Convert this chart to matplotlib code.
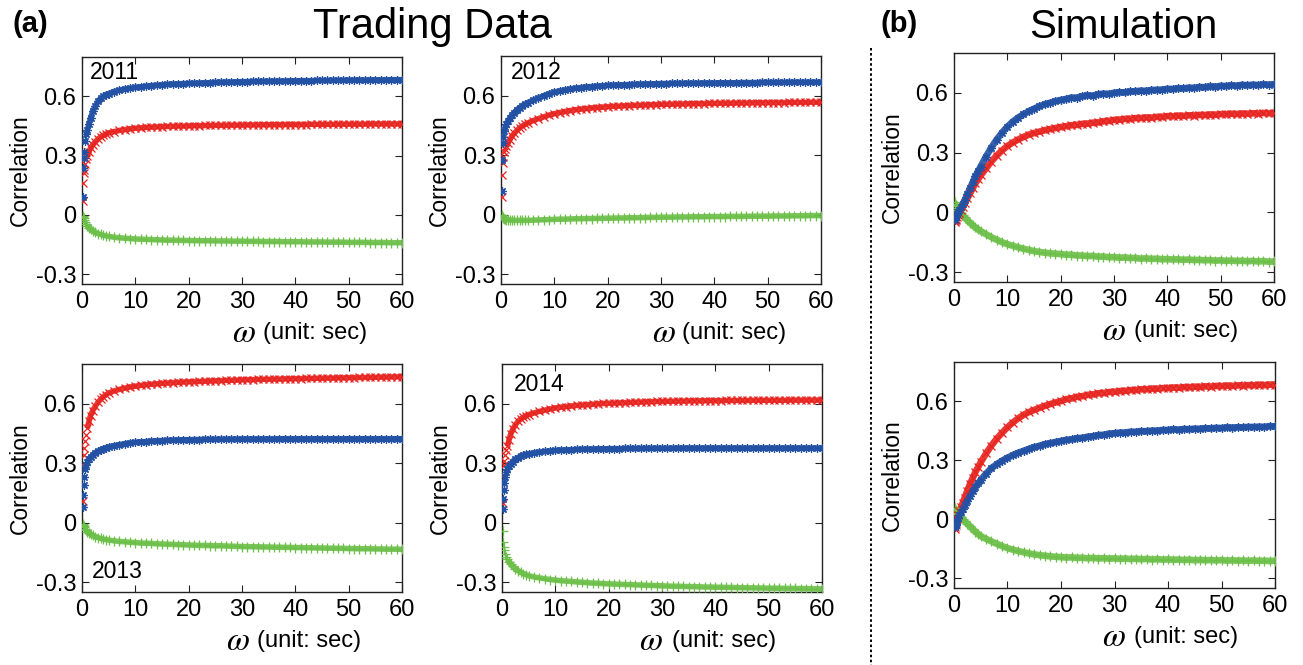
import matplotlib
matplotlib.use('Agg')
import matplotlib.pyplot as plt
from matplotlib.lines import Line2D

# ---------------- data ----------------
W = [0.1, 0.2, 0.3, 0.4, 0.6, 0.8, 1.0, 1.3, 1.6, 2.0, 2.5, 3.0, 3.5, 4.0, 4.5, 5.0,
     6, 7, 8, 9, 10,
     11, 12, 13, 14, 15, 16, 17, 18, 19, 20,
     21, 22, 23, 24, 25, 26, 27, 28, 29, 30,
     31, 32, 33, 34, 35, 36, 37, 38, 39, 40,
     41, 42, 43, 44, 45, 46, 47, 48, 49, 50,
     51, 52, 53, 54, 55, 56, 57, 58, 59, 60]

# 2011
B11 = [0.09, 0.24, 0.29, 0.32, 0.375, 0.41, 0.43, 0.46, 0.49, 0.525, 0.55, 0.575, 0.59, 0.60, 0.61, 0.615,
       0.625, 0.632, 0.638, 0.642, 0.646,
       0.649, 0.652, 0.655, 0.657, 0.659, 0.661, 0.663, 0.664, 0.665, 0.666,
       0.667, 0.668, 0.669, 0.670, 0.671, 0.672, 0.673, 0.673, 0.674, 0.675,
       0.675, 0.676, 0.676, 0.677, 0.677, 0.678, 0.678, 0.678, 0.679, 0.679,
       0.680, 0.680, 0.680, 0.681, 0.681, 0.681, 0.682, 0.682, 0.682, 0.683,
       0.683, 0.683, 0.683, 0.684, 0.684, 0.684, 0.684, 0.685, 0.685, 0.685]
R11 = [0.07, 0.16, 0.21, 0.23, 0.26, 0.285, 0.30, 0.32, 0.34, 0.355, 0.37, 0.385, 0.395, 0.403, 0.41, 0.416,
       0.422, 0.428, 0.432, 0.436, 0.439,
       0.441, 0.443, 0.445, 0.446, 0.447, 0.448, 0.449, 0.450, 0.450, 0.451,
       0.452, 0.452, 0.453, 0.453, 0.454, 0.454, 0.454, 0.455, 0.455, 0.455,
       0.456, 0.456, 0.456, 0.457, 0.457, 0.457, 0.457, 0.458, 0.458, 0.458,
       0.458, 0.458, 0.459, 0.459, 0.459, 0.459, 0.459, 0.460, 0.460, 0.460,
       0.460, 0.460, 0.460, 0.461, 0.461, 0.461, 0.461, 0.461, 0.461, 0.461]
G11 = [-0.003, -0.010, -0.018, -0.025, -0.037, -0.047, -0.056, -0.065, -0.073, -0.081, -0.089, -0.095, -0.099, -0.103, -0.106, -0.109,
       -0.113, -0.116, -0.118, -0.120, -0.122,
       -0.123, -0.124, -0.125, -0.126, -0.127, -0.128, -0.128, -0.129, -0.129, -0.130,
       -0.130, -0.131, -0.131, -0.131, -0.132, -0.132, -0.132, -0.133, -0.133, -0.133,
       -0.134, -0.134, -0.134, -0.135, -0.135, -0.135, -0.135, -0.136, -0.136, -0.136,
       -0.136, -0.137, -0.137, -0.137, -0.137, -0.138, -0.138, -0.138, -0.138, -0.139,
       -0.139, -0.139, -0.139, -0.140, -0.140, -0.140, -0.140, -0.141, -0.141, -0.141]

# 2012
B12 = [0.12, 0.275, 0.36, 0.39, 0.42, 0.44, 0.455, 0.47, 0.485, 0.50, 0.515, 0.53, 0.54, 0.55, 0.557, 0.565,
       0.577, 0.589, 0.600, 0.610, 0.618,
       0.624, 0.629, 0.634, 0.638, 0.641, 0.644, 0.646, 0.648, 0.650, 0.652,
       0.653, 0.654, 0.655, 0.656, 0.657, 0.658, 0.659, 0.659, 0.660, 0.661,
       0.661, 0.662, 0.662, 0.662, 0.663, 0.663, 0.663, 0.664, 0.664, 0.664,
       0.665, 0.665, 0.665, 0.665, 0.666, 0.666, 0.666, 0.666, 0.667, 0.667,
       0.667, 0.667, 0.667, 0.668, 0.668, 0.668, 0.668, 0.668, 0.668, 0.668]
R12 = [0.09, 0.20, 0.26, 0.29, 0.315, 0.33, 0.345, 0.36, 0.375, 0.395, 0.41, 0.425, 0.437, 0.447, 0.455, 0.462,
       0.474, 0.484, 0.493, 0.502, 0.509,
       0.515, 0.520, 0.525, 0.529, 0.532, 0.535, 0.538, 0.540, 0.542, 0.544,
       0.546, 0.547, 0.549, 0.550, 0.551, 0.552, 0.553, 0.554, 0.555, 0.556,
       0.557, 0.557, 0.558, 0.558, 0.559, 0.559, 0.560, 0.560, 0.561, 0.561,
       0.562, 0.562, 0.562, 0.563, 0.563, 0.563, 0.564, 0.564, 0.564, 0.565,
       0.565, 0.565, 0.565, 0.566, 0.566, 0.566, 0.566, 0.567, 0.567, 0.567]
G12 = [0.000, -0.008, -0.013, -0.016, -0.020, -0.023, -0.025, -0.026, -0.027, -0.028, -0.029, -0.029, -0.029, -0.029, -0.029, -0.029,
       -0.028, -0.027, -0.026, -0.025, -0.024,
       -0.023, -0.023, -0.022, -0.021, -0.021, -0.020, -0.020, -0.019, -0.019, -0.018,
       -0.018, -0.017, -0.017, -0.016, -0.016, -0.015, -0.015, -0.014, -0.014, -0.013,
       -0.013, -0.013, -0.012, -0.012, -0.012, -0.011, -0.011, -0.011, -0.010, -0.010,
       -0.010, -0.010, -0.009, -0.009, -0.009, -0.009, -0.008, -0.008, -0.008, -0.008,
       -0.007, -0.007, -0.007, -0.007, -0.006, -0.006, -0.006, -0.005, -0.005, -0.005]

# 2013
B13 = [0.08, 0.14, 0.19, 0.23, 0.27, 0.29, 0.305, 0.32, 0.33, 0.34, 0.352, 0.36, 0.367, 0.373, 0.378, 0.382,
       0.388, 0.393, 0.398, 0.402, 0.405,
       0.407, 0.409, 0.411, 0.413, 0.414, 0.415, 0.416, 0.417, 0.418, 0.418,
       0.419, 0.419, 0.420, 0.420, 0.420, 0.421, 0.421, 0.421, 0.421, 0.422,
       0.422, 0.422, 0.422, 0.422, 0.422, 0.422, 0.423, 0.423, 0.423, 0.423,
       0.423, 0.423, 0.423, 0.423, 0.423, 0.423, 0.423, 0.423, 0.423, 0.423,
       0.423, 0.423, 0.423, 0.423, 0.423, 0.423, 0.423, 0.423, 0.423, 0.423]
R13 = [0.11, 0.29, 0.34, 0.375, 0.41, 0.44, 0.475, 0.51, 0.54, 0.565, 0.587, 0.607, 0.622, 0.635, 0.645, 0.654,
       0.664, 0.672, 0.678, 0.684, 0.688,
       0.692, 0.695, 0.698, 0.700, 0.702, 0.704, 0.706, 0.707, 0.709, 0.710,
       0.711, 0.712, 0.713, 0.714, 0.715, 0.716, 0.717, 0.718, 0.719, 0.720,
       0.721, 0.721, 0.722, 0.723, 0.723, 0.724, 0.724, 0.725, 0.725, 0.726,
       0.726, 0.727, 0.727, 0.728, 0.728, 0.729, 0.729, 0.730, 0.730, 0.731,
       0.731, 0.732, 0.732, 0.733, 0.733, 0.734, 0.734, 0.735, 0.735, 0.736]
G13 = [-0.005, -0.012, -0.018, -0.024, -0.032, -0.039, -0.045, -0.052, -0.058, -0.065, -0.071, -0.076, -0.080, -0.083, -0.086, -0.088,
       -0.092, -0.095, -0.097, -0.099, -0.101,
       -0.103, -0.104, -0.105, -0.107, -0.108, -0.109, -0.110, -0.111, -0.112, -0.113,
       -0.114, -0.115, -0.115, -0.116, -0.117, -0.117, -0.118, -0.119, -0.120, -0.121,
       -0.121, -0.122, -0.122, -0.123, -0.123, -0.124, -0.124, -0.125, -0.125, -0.126,
       -0.126, -0.127, -0.127, -0.128, -0.128, -0.129, -0.129, -0.130, -0.130, -0.131,
       -0.131, -0.132, -0.132, -0.132, -0.133, -0.133, -0.134, -0.134, -0.134, -0.135]

# 2014
B14 = [0.07, 0.12, 0.165, 0.20, 0.23, 0.255, 0.27, 0.285, 0.297, 0.308, 0.32, 0.328, 0.335, 0.34, 0.344, 0.347,
       0.352, 0.356, 0.359, 0.362, 0.364,
       0.366, 0.367, 0.368, 0.369, 0.370, 0.371, 0.371, 0.372, 0.372, 0.373,
       0.373, 0.373, 0.374, 0.374, 0.374, 0.374, 0.375, 0.375, 0.375, 0.375,
       0.375, 0.375, 0.376, 0.376, 0.376, 0.376, 0.376, 0.376, 0.376, 0.376,
       0.376, 0.376, 0.376, 0.376, 0.376, 0.376, 0.376, 0.376, 0.376, 0.376,
       0.376, 0.376, 0.376, 0.376, 0.376, 0.376, 0.376, 0.376, 0.376, 0.376]
R14 = [0.10, 0.24, 0.29, 0.31, 0.34, 0.365, 0.385, 0.415, 0.445, 0.47, 0.493, 0.51, 0.522, 0.532, 0.539, 0.545,
       0.553, 0.561, 0.567, 0.573, 0.578,
       0.582, 0.585, 0.588, 0.591, 0.593, 0.595, 0.597, 0.599, 0.601, 0.602,
       0.603, 0.604, 0.605, 0.606, 0.607, 0.608, 0.609, 0.610, 0.611, 0.611,
       0.612, 0.612, 0.613, 0.613, 0.614, 0.614, 0.614, 0.615, 0.615, 0.615,
       0.615, 0.616, 0.616, 0.616, 0.616, 0.616, 0.617, 0.617, 0.617, 0.617,
       0.617, 0.617, 0.617, 0.618, 0.618, 0.618, 0.618, 0.618, 0.618, 0.618]
G14 = [-0.04, -0.10, -0.125, -0.138, -0.158, -0.172, -0.185, -0.197, -0.208, -0.22, -0.232, -0.242, -0.25, -0.257, -0.263, -0.268,
       -0.274, -0.279, -0.283, -0.287, -0.290,
       -0.293, -0.295, -0.297, -0.299, -0.301, -0.303, -0.305, -0.306, -0.308, -0.309,
       -0.310, -0.311, -0.312, -0.313, -0.314, -0.315, -0.316, -0.317, -0.318, -0.319,
       -0.320, -0.321, -0.321, -0.322, -0.323, -0.323, -0.324, -0.325, -0.325, -0.326,
       -0.326, -0.327, -0.327, -0.328, -0.328, -0.329, -0.329, -0.330, -0.330, -0.331,
       -0.331, -0.331, -0.332, -0.332, -0.332, -0.333, -0.333, -0.334, -0.334, -0.335]

# Simulation (top)
BS1 = [-0.04, -0.03, -0.025, -0.02, -0.01, 0.0, 0.01, 0.025, 0.04, 0.06, 0.09, 0.12, 0.15, 0.18, 0.205, 0.23,
       0.28, 0.325, 0.365, 0.40, 0.43,
       0.455, 0.475, 0.492, 0.507, 0.52, 0.532, 0.542, 0.55, 0.558, 0.564,
       0.569, 0.576, 0.576, 0.582, 0.587, 0.586, 0.592, 0.596, 0.595, 0.600,
       0.603, 0.602, 0.607, 0.608, 0.611, 0.610, 0.614, 0.615, 0.616, 0.620,
       0.619, 0.623, 0.622, 0.626, 0.625, 0.629, 0.628, 0.632, 0.631, 0.635,
       0.634, 0.637, 0.636, 0.640, 0.638, 0.641, 0.639, 0.642, 0.641, 0.642]
RS1 = [-0.05, -0.045, -0.04, -0.035, -0.025, -0.015, -0.005, 0.01, 0.025, 0.045, 0.07, 0.095, 0.12, 0.145, 0.165, 0.185,
       0.22, 0.255, 0.285, 0.31, 0.333,
       0.35, 0.365, 0.378, 0.39, 0.398, 0.405, 0.412, 0.418, 0.423, 0.428,
       0.432, 0.437, 0.439, 0.444, 0.445, 0.450, 0.451, 0.457, 0.459, 0.464,
       0.465, 0.469, 0.469, 0.473, 0.473, 0.476, 0.475, 0.479, 0.479, 0.483,
       0.482, 0.485, 0.484, 0.487, 0.486, 0.489, 0.488, 0.491, 0.490, 0.493,
       0.492, 0.495, 0.493, 0.496, 0.495, 0.497, 0.496, 0.499, 0.497, 0.499]
GS1 = [0.05, 0.04, 0.035, 0.03, 0.02, 0.012, 0.005, -0.005, -0.015, -0.025, -0.04, -0.052, -0.065, -0.076, -0.086, -0.095,
       -0.11, -0.125, -0.138, -0.15, -0.16,
       -0.168, -0.176, -0.183, -0.189, -0.195, -0.199, -0.203, -0.206, -0.208, -0.21,
       -0.213, -0.213, -0.217, -0.217, -0.220, -0.219, -0.223, -0.222, -0.226, -0.225,
       -0.228, -0.227, -0.230, -0.229, -0.233, -0.231, -0.234, -0.233, -0.236, -0.235,
       -0.237, -0.236, -0.239, -0.237, -0.240, -0.239, -0.241, -0.240, -0.243, -0.241,
       -0.244, -0.242, -0.245, -0.243, -0.246, -0.244, -0.247, -0.245, -0.248, -0.247]

# Simulation (bottom)
BS2 = [-0.04, -0.035, -0.03, -0.022, -0.01, 0.005, 0.02, 0.035, 0.05, 0.07, 0.095, 0.12, 0.142, 0.163, 0.183, 0.20,
       0.232, 0.26, 0.28, 0.298, 0.313,
       0.326, 0.338, 0.348, 0.358, 0.366, 0.374, 0.381, 0.387, 0.393, 0.398,
       0.404, 0.406, 0.412, 0.414, 0.420, 0.422, 0.428, 0.430, 0.436, 0.437,
       0.441, 0.441, 0.445, 0.445, 0.448, 0.448, 0.451, 0.451, 0.454, 0.454,
       0.457, 0.456, 0.459, 0.458, 0.461, 0.460, 0.463, 0.462, 0.465, 0.464,
       0.467, 0.466, 0.468, 0.467, 0.470, 0.469, 0.471, 0.470, 0.473, 0.472]
RS2 = [-0.05, -0.04, -0.03, -0.02, 0.0, 0.02, 0.04, 0.06, 0.08, 0.11, 0.145, 0.18, 0.21, 0.24, 0.265, 0.29,
       0.335, 0.375, 0.41, 0.44, 0.468,
       0.492, 0.513, 0.531, 0.545, 0.556, 0.567, 0.577, 0.586, 0.594, 0.601,
       0.611, 0.615, 0.623, 0.626, 0.633, 0.635, 0.641, 0.642, 0.647, 0.648,
       0.652, 0.653, 0.657, 0.657, 0.661, 0.661, 0.664, 0.664, 0.667, 0.667,
       0.670, 0.669, 0.672, 0.671, 0.674, 0.673, 0.676, 0.675, 0.678, 0.677,
       0.680, 0.678, 0.681, 0.680, 0.682, 0.681, 0.684, 0.682, 0.685, 0.684]
GS2 = [0.055, 0.05, 0.045, 0.04, 0.032, 0.025, 0.018, 0.01, 0.002, -0.01, -0.024, -0.037, -0.05, -0.063, -0.075, -0.086,
       -0.10, -0.113, -0.125, -0.137, -0.147,
       -0.155, -0.162, -0.168, -0.174, -0.179, -0.183, -0.186, -0.189, -0.191, -0.193,
       -0.195, -0.194, -0.197, -0.196, -0.199, -0.197, -0.200, -0.198, -0.201, -0.199,
       -0.202, -0.200, -0.203, -0.201, -0.204, -0.202, -0.205, -0.203, -0.206, -0.204,
       -0.207, -0.205, -0.208, -0.206, -0.209, -0.207, -0.209, -0.208, -0.210, -0.208,
       -0.211, -0.209, -0.211, -0.210, -0.212, -0.210, -0.212, -0.211, -0.213, -0.211]

YTICKS = [-0.3, 0, 0.3, 0.6]
YTICKLABELS = ['-0.3', '0', '0.3', '0.6']
XTICKS = [0, 10, 20, 30, 40, 50, 60]

# ---------------- style ----------------
plt.rcParams['font.family'] = ['Liberation Sans', 'DejaVu Sans']
plt.rcParams['mathtext.fontset'] = 'stix'

BLUE = '#2352a5'
RED = '#e6231f'
GREEN = '#6cbf48'

FW, FH = 1303, 665
fig = plt.figure(figsize=(FW / 100, FH / 100), dpi=100)


def rect(l, r, t, b):
    return [l / FW, 1 - b / FH, (r - l) / FW, (b - t) / FH]


panels = [
    dict(px=(82, 402, 57, 284), data=(B11, R11, G11), year='2011', ypos=(0.025, 0.93), om=(150, 181), trade=True),
    dict(px=(501, 821, 56, 284), data=(B12, R12, G12), year='2012', ypos=(0.032, 0.928), om=(151, 181), trade=True),
    dict(px=(82, 402, 364, 592), data=(B13, R13, G13), year='2013', ypos=(0.03, 0.088), om=(144, 175), trade=True),
    dict(px=(502, 822, 364, 592), data=(B14, R14, G14), year='2014', ypos=(0.038, 0.908), om=(137, 170), trade=True),
    dict(px=(954, 1274, 53, 282), data=(BS1, RS1, GS1), year=None, ypos=None, om=(148, 180), trade=False),
    dict(px=(954, 1275, 362, 588), data=(BS2, RS2, GS2), year=None, ypos=None, om=(148, 180), trade=False),
]

STAR = (8, 2, 0)  # asterisk (+ and x combined)

for p in panels:
    l, r, t, b = p['px']
    ax = fig.add_axes(rect(l, r, t, b))
    blue, red, green = p['data']
    for vals, col, mk, ms in ((green, GREEN, '+', 6.5), (red, RED, 'x', 5.5), (blue, BLUE, STAR, 6.0)):
        if p['trade']:
            xs = [w for w in W if w >= 1.0]
            ys = vals[len(W) - len(xs):]
            lw = 4.0
        else:
            xs, ys = W, vals
            lw = 4.8
        ax.plot(xs, ys, color=col, lw=lw, alpha=0.9, solid_capstyle='butt', zorder=2)
        ax.plot(W, vals, ls='none', marker=mk, ms=ms, mew=0.9, color=col, zorder=3)
    ax.set_xlim(0, 60)
    ax.set_ylim(-0.35, 0.8)
    ax.set_xticks(XTICKS)
    ax.set_yticks(YTICKS)
    ax.set_yticklabels(YTICKLABELS)
    ax.tick_params(direction='in', top=True, right=True, length=5, width=0.8,
                   labelsize=17, pad=4, colors='#222222', labelcolor='black')
    ax.tick_params(axis='x', pad=5)
    for s in ax.spines.values():
        s.set_color('#222222')
        s.set_linewidth(1.0)
    ax.text(-62 / (r - l), 0.5, 'Correlation', rotation=90, transform=ax.transAxes,
            ha='center', va='center', fontsize=16.5)
    if p['year']:
        ax.text(p['ypos'][0], p['ypos'][1], p['year'], transform=ax.transAxes,
                ha='left', va='center', fontsize=16.5)
    # x label: omega + (unit: sec)
    yl = b + 49
    fig.text((l + p['om'][0]) / FW, 1 - yl / FH, r'$\omega$', fontsize=24,
             ha='left', va='center')
    fig.text((l + p['om'][1]) / FW, 1 - yl / FH, '(unit: sec)', fontsize=17,
             ha='left', va='center')

# titles
fig.text(13 / FW, 1 - 24 / FH, '(a)', fontsize=21, fontweight='bold', ha='left', va='center')
fig.text(432 / FW, 1 - 38 / FH, 'Trading Data', fontsize=30, ha='center', va='baseline')
fig.text(881 / FW, 1 - 24 / FH, '(b)', fontsize=21, fontweight='bold', ha='left', va='center')
fig.text(1123 / FW, 1 - 38 / FH, 'Simulation', fontsize=29, ha='center', va='baseline')

# dotted separator
fig.add_artist(Line2D([871 / FW, 871 / FW], [1 - 48 / FH, 0.0], transform=fig.transFigure,
                      color='black', lw=1.4, ls=(0, (1.3, 1.3))))

fig.savefig('out.png', dpi=100)
